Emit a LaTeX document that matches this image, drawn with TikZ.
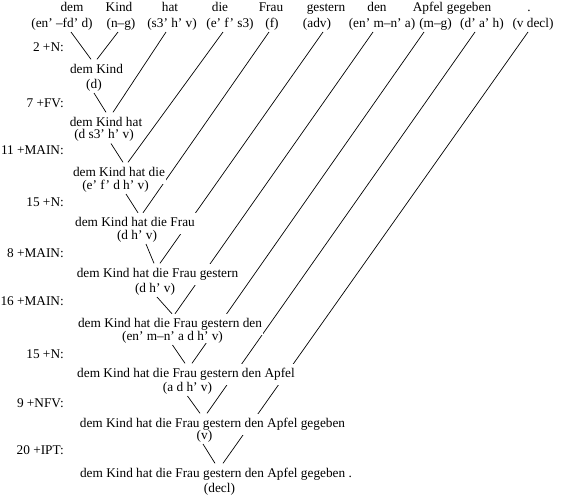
\documentclass[tikz,border=0pt]{standalone}
\usepackage{fontspec}
\setmainfont{Liberation Serif}
\usetikzlibrary{backgrounds}

\begin{document}
\begin{tikzpicture}[x=1pt, y=-1pt,
    every node/.style={font=\fontsize{13.3}{16}\selectfont, inner sep=0pt, text height=9pt, text depth=3pt},
    word/.style={},
    cat/.style={outer sep=2pt, fill=white},
    rule/.style={anchor=east},
    state/.style={inner xsep=1pt, inner ysep=4.5pt, fill=white},
    link/.style={line width=0.7pt}
]
\useasboundingbox (0,0) rectangle (567,496);

% Parole in alto
\node[word] (w1) at (72,8) {dem};
\node[word] (w2) at (119,8) {Kind};
\node[word] (w3) at (170,8) {hat};
\node[word] (w4) at (220,8) {die};
\node[word] (w5) at (271,8) {Frau};
\node[word] (w6) at (326,8) {gestern};
\node[word] (w7) at (377,8) {den};
\node[word] (w8) at (428,8) {Apfel};
\node[word] (w9) at (469,8) {gegeben};
\node[word] (w10) at (529,8) {.};

\node[cat] (c1) at (62,24) {(en' --fd' d)};
\node[cat] (c2) at (121,24) {(n--g)};
\node[cat] (c3) at (172,24) {(s3' h' v)};
\node[cat] (c4) at (230,24) {(e' f' s3)};
\node[cat] (c5) at (272,24) {(f)};
\node[cat] (c6) at (317,24) {(adv)};
\node[cat] (c7) at (382,24) {(en' m--n' a)};
\node[cat] (c8) at (435.5,24) {(m--g)};
\node[cat] (c9) at (482,24) {(d' a' h)};
\node[cat] (c10) at (533,24) {(v decl)};

% Regole
\node[rule] (r1) at (64,48) {2 +N:};
\node[rule] (r2) at (64,104) {7 +FV:};
\node[rule] (r3) at (64,151) {11 +MAIN:};
\node[rule] (r4) at (64,203) {15 +N:};
\node[rule] (r5) at (64,254) {8 +MAIN:};
\node[rule] (r6) at (64,302) {16 +MAIN:};
\node[rule] (r7) at (64,355) {15 +N:};
\node[rule] (r8) at (64,404) {9 +NFV:};
\node[rule] (r9) at (64,451) {20 +IPT:};

% Stati
\node[state] (s1) at (96.5,70) {dem Kind};
\node[cat] (k1) at (94,85) {(d)};
\node[state] (s2) at (106,123) {dem Kind hat};
\node[cat] (k2) at (104,135.5) {(d s3' h' v)};
\node[state] (s3) at (119,173) {dem Kind hat die};
\node[cat] (k3) at (115.5,186) {(e' f' d h' v)};
\node[state] (s4) at (135,223.5) {dem Kind hat die Frau};
\node[cat] (k4) at (137,236) {(d h' v)};
\node[state] (s5) at (157.5,274) {dem Kind hat die Frau gestern};
\node[cat] (k5) at (155,289) {(d h' v)};
\node[state] (s6) at (170,324.5) {dem Kind hat die Frau gestern den};
\node[cat] (k6) at (172.5,337) {(en' m--n' a d h' v)};
\node[state] (s7) at (186,374) {dem Kind hat die Frau gestern den Apfel};
\node[cat] (k7) at (187.5,388) {(a d h' v)};
\node[state] (s8) at (212.5,424) {dem Kind hat die Frau gestern den Apfel gegeben};
\node[cat] (k8) at (204.5,436) {(v)};
\node[state] (s9) at (216,474) {dem Kind hat die Frau gestern den Apfel gegeben .};
\node[cat] (k9) at (219.5,489) {(decl)};

\begin{scope}[on background layer]
% Linee dalle parole
\draw[link] ([xshift=9pt]c1.south) -- ([xshift=-5.5pt]s1.north);
\draw[link] ([xshift=-3pt]c2.south) -- ([xshift=0.5pt]s1.north);
\draw[link] ([xshift=-6pt]c3.south) -- ([xshift=7pt]s2.north);
\draw[link] ([xshift=-7pt]c4.south) -- ([xshift=9pt]s3.north);
\draw[link] ([xshift=-3pt]c5.south) -- ([xshift=8pt]s4.north);
\draw[link] ([xshift=6pt]c6.south) -- ([xshift=2.5pt]s5.north);
\draw[link] ([xshift=-9pt]c7.south) -- ([xshift=5pt]s6.north);
\draw[link] ([xshift=-11.5pt]c8.south) -- ([xshift=6pt]s7.north);
\draw[link] ([xshift=-7pt]c9.south) -- ([xshift=-5.5pt]s8.north);
\draw[link] ([xshift=-5pt]c10.south) -- ([xshift=7pt]s9.north);

% Linee tra gli stati
\draw[link] (k1.south) -- (s2.north);
\draw[link] ([xshift=7pt]k2.south) -- ([xshift=4pt]s3.north);
\draw[link] ([xshift=10.5pt]k3.south) -- ([xshift=3pt]s4.north);
\draw[link] ([xshift=9pt]k4.south) -- ([xshift=-3.5pt]s5.north);
\draw[link] ([xshift=2pt]k5.south) -- ([xshift=2pt]s6.north);
\draw[link] (k6.south) -- ([xshift=-1pt]s7.north);
\draw[link] (k7.south) -- ([xshift=-12.5pt]s8.north);
\draw[link] ([xshift=-1.5pt]k8.south) -- ([xshift=-1pt]s9.north);
\end{scope}

\end{tikzpicture}
\end{document}
